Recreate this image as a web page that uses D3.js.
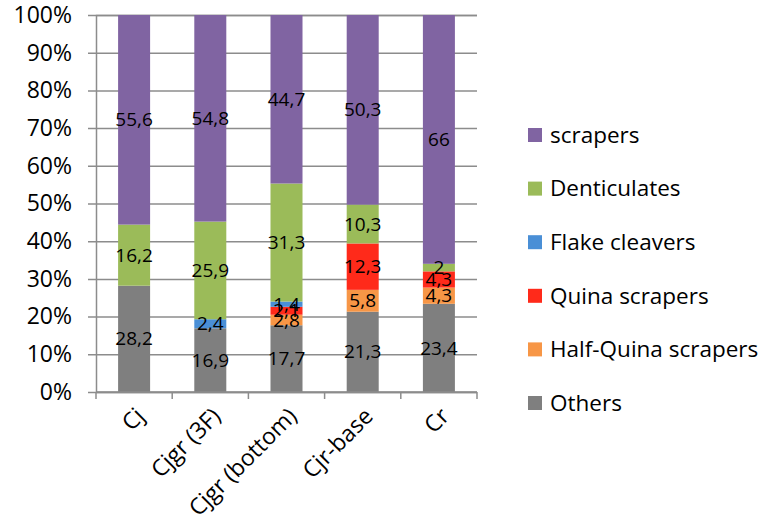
<!DOCTYPE html>
<html>
<head>
<meta charset="utf-8">
<script src="https://cdn.jsdelivr.net/npm/d3@7"></script>
<style>
  html, body { margin: 0; padding: 0; background: #fff; }
  svg { display: block; font-family: "Open Sans", sans-serif; }
</style>
</head>
<body>
<svg id="chart" width="769" height="531"></svg>
<script>
const categories = ["Cj", "Cjgr (3F)", "Cjgr (bottom)", "Cjr-base", "Cr"];
const others = [28.2, 16.9, 17.7, 21.3, 23.4];
const halfQuina = [0, 0, 2.8, 5.8, 4.3];
const quina = [0, 0, 2.1, 12.3, 4.3];
const flakeCleavers = [0, 2.4, 1.4, 0, 0];
const denticulates = [16.2, 25.9, 31.3, 10.3, 2];
const scrapers = [55.6, 54.8, 44.7, 50.3, 66];
const seriesNames = ["Others", "Half-Quina scrapers", "Quina scrapers", "Flake cleavers", "Denticulates", "scrapers"];
const seriesValues = [others, halfQuina, quina, flakeCleavers, denticulates, scrapers];
const seriesColors = ["#7f7f7f", "#f79646", "#ff2a1a", "#4a8fd6", "#9bbb59", "#8064a2"];
const yTicks = [0, 0.1, 0.2, 0.3, 0.4, 0.5, 0.6, 0.7, 0.8, 0.9, 1];

const rows = categories.map((c, i) => {
  const r = { category: c };
  seriesNames.forEach((s, j) => { r[s] = seriesValues[j][i]; });
  return r;
});

const margin = { left: 96, right: 292, top: 15, bottom: 139 };
const W = 769, H = 531;
const svg = d3.select("#chart");
const x = d3.scaleBand().domain(categories).range([margin.left, W - margin.right]).paddingInner(0.58).paddingOuter(0.29);
const y = d3.scaleLinear().domain([0, 1]).range([H - margin.bottom, margin.top]);
const color = d3.scaleOrdinal().domain(seriesNames).range(seriesColors);

const stack = d3.stack().keys(seriesNames).offset(d3.stackOffsetExpand);
const stacked = stack(rows);

const gridColor = "#8c8c8c";
// gridlines + y axis
const yAxis = d3.axisLeft(y).tickValues(yTicks).tickFormat(d3.format(".0%"))
  .tickSize(-(W - margin.right - margin.left)).tickPadding(24);
const gy = svg.append("g").attr("transform", `translate(${margin.left},0)`).call(yAxis);
gy.select(".domain").attr("stroke", gridColor).attr("stroke-width", 1.5);
gy.selectAll(".tick line").attr("stroke", gridColor).attr("stroke-width", 1.5).attr("x1", -8);
gy.selectAll(".tick text").attr("fill", "#000").style("font-size", "23px").style("font-family", "Open Sans, sans-serif");

// bars
const layer = svg.append("g").selectAll("g").data(stacked).join("g").attr("fill", d => color(d.key));
layer.selectAll("rect").data(d => d.map(p => ({ p, key: d.key }))).join("rect")
  .attr("x", d => x(d.p.data.category))
  .attr("width", x.bandwidth())
  .attr("y", d => y(d.p[1]))
  .attr("height", d => y(d.p[0]) - y(d.p[1]));

// value labels
const labels = svg.append("g");
stacked.forEach(s => {
  s.forEach(p => {
    const v = p.data[s.key];
    if (!v) return;
    labels.append("text")
      .attr("x", x(p.data.category) + x.bandwidth() / 2)
      .attr("y", (y(p[0]) + y(p[1])) / 2)
      .attr("dy", "0.35em")
      .attr("text-anchor", "middle")
      .style("font-size", "19px")
      .attr("fill", "#000")
      .text(String(v).replace(".", ","));
  });
});

// x axis
const boundaries = categories.map(c => x(c) - x.step() * x.paddingInner() / 2);
boundaries.push(W - margin.right);
const gx = svg.append("g");
gx.append("line").attr("x1", margin.left).attr("x2", W - margin.right)
  .attr("y1", y(0)).attr("y2", y(0)).attr("stroke", gridColor).attr("stroke-width", 1.5);
gx.selectAll("line.tk").data(boundaries).join("line").attr("class", "tk")
  .attr("x1", d => d).attr("x2", d => d).attr("y1", y(0)).attr("y2", y(0) + 7)
  .attr("stroke", gridColor).attr("stroke-width", 1.5);
gx.selectAll("text").data(categories).join("text")
  .attr("transform", d => `translate(${x(d) + x.bandwidth() / 2 + 6},${y(0) + 20}) rotate(-45)`)
  .attr("text-anchor", "end")
  .attr("dy", "0.35em")
  .style("font-size", "23px")
  .attr("fill", "#000")
  .text(d => d);

// legend
const legendOrder = seriesNames.slice().reverse();
const lg = svg.append("g").attr("transform", "translate(528,135)");
const li = lg.selectAll("g").data(legendOrder).join("g").attr("transform", (d, i) => `translate(0,${i * 53.6})`);
li.append("rect").attr("x", 0).attr("y", -7).attr("width", 14).attr("height", 14).attr("fill", d => color(d));
li.append("text").attr("x", 22).attr("y", 0).attr("dy", "0.35em").style("font-size", "22.5px").attr("fill", "#000").text(d => d);
</script>
</body>
</html>
